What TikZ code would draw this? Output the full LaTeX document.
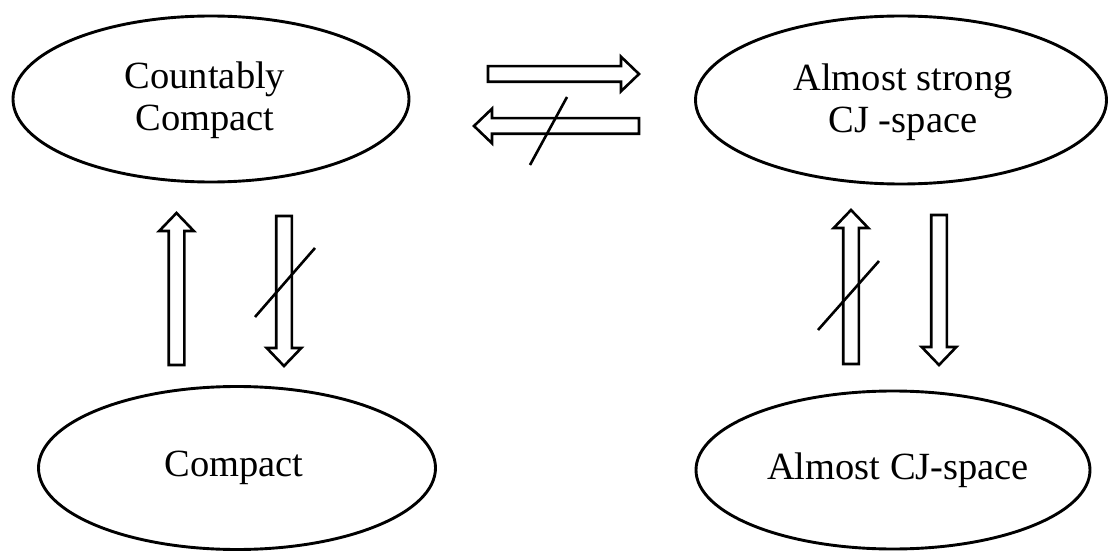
\documentclass[tikz,border=0pt]{standalone}
\usepackage{fontspec}
\setmainfont{Liberation Serif}
\usetikzlibrary{shapes.geometric,calc}
\tikzset{
  ell/.style={ellipse, draw, line width=2.9pt, inner sep=0pt},
  lbl/.style={align=center, inner sep=0pt, font=\fontsize{38.5}{42}\selectfont},
  blockarrow/.style={draw, line width=2.6pt, fill=white, line join=miter},
  slash/.style={draw, line width=2.6pt},
}
% hollow block arrow from coordinate #1 to coordinate #2
\newcommand\hollowarrow[2]{%
  \path[blockarrow] let \p1=(#1), \p2=(#2),
    \n1={atan2(\y2-\y1,\x2-\x1)}, \n2={veclen(\x2-\x1,\y2-\y1)} in
    [shift={(\p1)}, rotate=\n1]
    (0pt,-7.8pt) -- ({\n2*1pt-18pt},-7.8pt) -- ({\n2*1pt-18pt},-17.3pt)
    -- ({\n2*1pt},0pt) -- ({\n2*1pt-18pt},17.3pt) -- ({\n2*1pt-18pt},7.8pt)
    -- (0pt,7.8pt) -- cycle;%
}
\begin{document}
\begin{tikzpicture}[x=1pt,y=-1pt]
\useasboundingbox (0,0) rectangle (1112,559);

% the four spaces
\node[ell, minimum width=396pt, minimum height=166pt] (cc) at (211,99) {};
\node[ell, minimum width=411pt, minimum height=168pt] (as) at (901,100) {};
\node[ell, minimum width=397pt, minimum height=163pt] (co) at (237,468) {};
\node[ell, minimum width=394pt, minimum height=158pt] (ac) at (893,470) {};

\node[lbl] (cct) at ([xshift=-6pt,yshift=-1pt]cc.center) {Countably\\Compact};
\node[lbl] (ast) at ([xshift=2pt,yshift=-2pt]as.center) {Almost strong\\CJ -space};
\node[lbl] (cot) at ([xshift=-3pt]co.center) {Compact};
\node[lbl] (act) at ([xshift=5pt]ac.center) {Almost CJ-space};

% arrow end points
\coordinate (t1) at (488,74);  \coordinate (h1) at (639,74);
\coordinate (t2) at (639,126); \coordinate (h2) at (474,126);
\coordinate (t3) at (176.5,365); \coordinate (h3) at (176.5,213);
\coordinate (t4) at (284,216); \coordinate (h4) at (284,366);
\coordinate (t5) at (851,364); \coordinate (h5) at (851,210);
\coordinate (t6) at (939,215); \coordinate (h6) at (939,365);

\hollowarrow{t1}{h1}
\hollowarrow{t2}{h2}
\hollowarrow{t3}{h3}
\hollowarrow{t4}{h4}
\hollowarrow{t5}{h5}
\hollowarrow{t6}{h6}

% negation strokes
\coordinate (s1a) at (567,97);  \coordinate (s1b) at (530,165);
\coordinate (s2a) at (315,248); \coordinate (s2b) at (255,317);
\coordinate (s3a) at (879,261); \coordinate (s3b) at (818,330);
\draw[slash] (s1a) -- (s1b);
\draw[slash] (s2a) -- (s2b);
\draw[slash] (s3a) -- (s3b);
\end{tikzpicture}
\end{document}
